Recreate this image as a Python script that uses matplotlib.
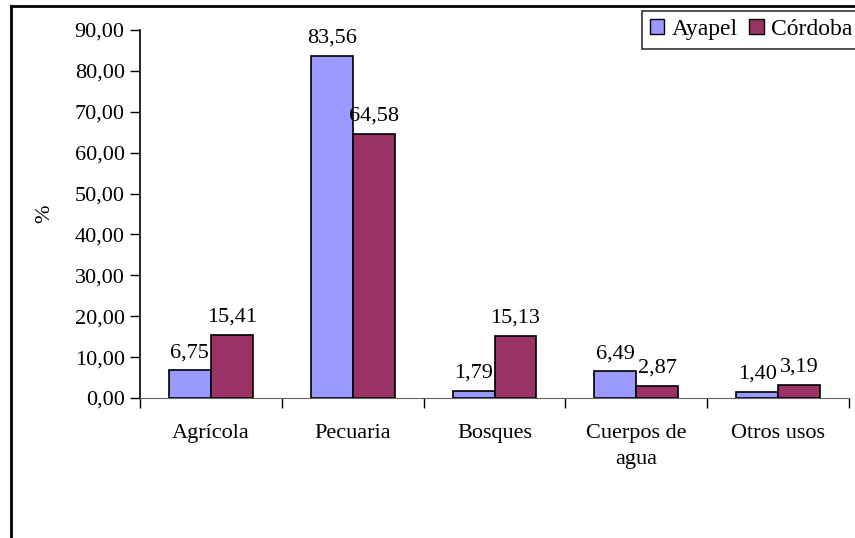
import numpy as np
import matplotlib
matplotlib.use('Agg')
import matplotlib.pyplot as plt
from matplotlib.ticker import FuncFormatter, FixedLocator
from matplotlib.lines import Line2D
from matplotlib.patches import Patch

plt.rcParams['font.family'] = ['Liberation Serif', 'DejaVu Serif']

categories = ['Agrícola', 'Pecuaria', 'Bosques', 'Cuerpos de\nagua', 'Otros usos']
ayapel = [6.75, 83.56, 1.79, 6.49, 1.40]
cordoba = [15.41, 64.58, 15.13, 2.87, 3.19]
series_names = ['Ayapel', 'Córdoba']
colors = ['#9999FF', '#993366']

fs = 16
fig = plt.figure(figsize=(8.55, 5.38), dpi=100)
ax = fig.add_axes([140/855, 1 - 398/538, (849 - 140)/855, (398 - 30)/538])

x = np.arange(len(categories))
w = 0.296
b1 = ax.bar(x - w/2, ayapel, w, color=colors[0], edgecolor='black', linewidth=1.2, label=series_names[0])
b2 = ax.bar(x + w/2, cordoba, w, color=colors[1], edgecolor='black', linewidth=1.2, label=series_names[1])

fmt = lambda v: f'{v:.2f}'.replace('.', ',')
ax.bar_label(b1, labels=[fmt(v) for v in ayapel], padding=6, fontsize=fs)
ax.bar_label(b2, labels=[fmt(v) for v in cordoba], padding=6, fontsize=fs)

ax.set_xlim(-0.5, len(categories) - 0.5)
ax.set_ylim(0, 90)
ax.set_yticks(np.arange(0, 91, 10))
ax.yaxis.set_major_formatter(FuncFormatter(lambda v, p: fmt(v)))
ax.set_xticks(x)
ax.set_xticklabels(categories, fontsize=fs, linespacing=1.45)
ax.xaxis.set_minor_locator(FixedLocator(np.arange(-0.5, len(categories), 1)))
ax.tick_params(axis='x', which='major', length=0, pad=19)
ax.tick_params(axis='x', which='minor', length=7, width=1, color='black', direction='out')
ax.tick_params(axis='y', length=7, width=1, direction='out', labelsize=fs, pad=4)

ax.spines['top'].set_visible(False)
ax.spines['right'].set_visible(False)
ax.spines['bottom'].set_color('#666666')
ax.spines['left'].set_linewidth(1.2)

ax.set_ylabel('%', fontsize=fs)
ax.yaxis.set_label_coords(-86/709, 0.5)

handles = [Patch(facecolor=c, edgecolor='black', linewidth=1) for c in colors]
leg = fig.legend(handles, series_names, loc='upper left', bbox_to_anchor=(642/855, 1 - 11/538),
                 ncol=2, fontsize=17, frameon=True, fancybox=False, edgecolor='black',
                 handlelength=0.6, handleheight=0.6, handletextpad=0.3, columnspacing=0.5,
                 borderpad=0.35, borderaxespad=0)
leg.get_frame().set_linewidth(1.2)

# chart area border (left and top edges visible)
fig.add_artist(Line2D([11/855, 11/855], [0, 1 - 6/538], transform=fig.transFigure, color='black', lw=2))
fig.add_artist(Line2D([11/855, 1], [1 - 6/538, 1 - 6/538], transform=fig.transFigure, color='black', lw=2))

fig.savefig('out.png', dpi=100)
